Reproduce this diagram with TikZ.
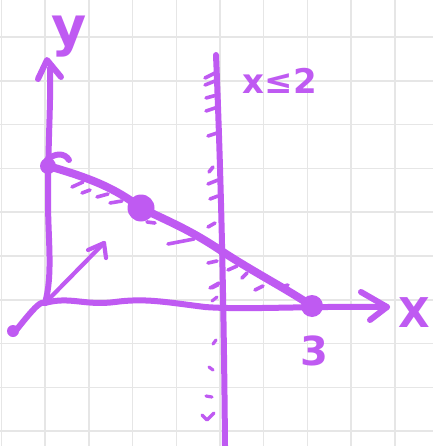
\documentclass[tikz,border=0pt]{standalone}
\usepackage{fontspec}
\setmainfont{DejaVu Sans}
\definecolor{pcol}{HTML}{BF5AF2}
\definecolor{gcol}{HTML}{E6E6E6}
\begin{document}
\begin{tikzpicture}[x=1pt,y=-1pt,
  gridline/.style={draw=gcol, line width=1.5pt},
  pen/.style={draw=pcol, line width=6pt, line cap=round, line join=round},
  thinpen/.style={pen, line width=4.2pt},
  hatchmark/.style={pen, line width=3.6pt},
  dot/.style={circle, fill=pcol, inner sep=0pt},
  lbl/.style={text=pcol, inner sep=0pt}]
\useasboundingbox (0,0) rectangle (433,446);
\fill[white] (0,0) rectangle (433,446);
% grid
\foreach \i in {0,...,9} \draw[gridline] ({1.5+43.7*\i},0) -- ({1.5+43.7*\i},446);
\foreach \j in {0,...,9} \draw[gridline] (0,{37+43.8*\j}) -- (433,{37+43.8*\j});
% key points
\coordinate (O) at (45,303);
\coordinate (Ytop) at (47,60);
\coordinate (Xtip) at (387,307);
\coordinate (Vtip) at (104,243);
\coordinate (Ltail) at (14,333);
\coordinate (Vtop) at (216,55);
\coordinate (Vbot) at (225,446);
\coordinate (A) at (48,166);
\coordinate (B) at (141,208);
\coordinate (C) at (312,306);
% y axis
\draw[pen] (O) .. controls (53,275) and (48,240) .. (48,200) .. controls (48,140) and (51,100) .. (50,68);
\draw[pen] (38,79) -- (Ytop) -- (61,77);
% x axis
\draw[pen] (O) .. controls (70,296) and (85,306) .. (115,302) .. controls (145,298) and (165,302) .. (205,307) .. controls (245,310) and (300,306) .. (Xtip);
\draw[pen] (361,292) -- (Xtip) -- (370,320);
% vector
\draw[thinpen] (O) -- (Vtip);
\draw[thinpen] (88,250) -- (Vtip) -- (106,258);
% tail
\draw[pen] (O) .. controls (41,301) and (36,305) .. (Ltail);
\fill[pcol] (13,331) circle (6);
% vertical line x<=2
\draw[pen] (Vtop) .. controls (222,200) and (224,330) .. (Vbot);
\foreach \a/\b/\c/\d in {205/78/215/73, 205/85/215/81, 206/98/217/95, 206/111/218/107, 208/136/220/132,
  209/172/213/167, 208/184/218/180, 210/199/218/196, 208/227/215/223, 208/263/217/261, 210/288/219/283}
  \draw[hatchmark] (\a,\b) -- (\c,\d);
\foreach \a/\b/\c/\d in {212/288/218/285, 212/301/217/297, 213/344/216/340, 209/367/213/370, 206/396/212/397}
  \draw[hatchmark, line width=3.2pt] (\a,\b) -- (\c,\d);
\draw[hatchmark, line width=3.2pt] (202,415) -- (207,420) -- (214,413);
% line through (0,y0) and (3,0)
\draw[pen, line width=8pt] (A) .. controls (90,178) and (115,188) .. (B) .. controls (170,222) and (190,230) .. (220,250) .. controls (250,270) and (285,288) .. (C);
\draw[pen] (46,161) .. controls (55,152) and (65,153) .. (69,160);
\foreach \a/\b/\c/\d in {72/187/83/182, 82/193/90/190, 97/197/108/194, 110/203/122/201, 147/222/155/223,
  168/244/194/239, 228/270/237/266, 242/278/247/273, 255/290/263/286, 281/287/288/285}
  \draw[hatchmark] (\a,\b) -- (\c,\d);
\node[dot, minimum size=16pt] (PA) at (A) {};
\node[dot, minimum size=27pt] (PB) at (B) {};
\node[dot, minimum size=22pt] (PC) at (C) {};
% labels
\node[lbl, font=\fontsize{54}{54}\selectfont\bfseries] (ly) at (69,37) {y};
\node[lbl, font=\fontsize{41}{41}\selectfont\bfseries] (lx) at (414,313) {X};
\node[lbl, font=\fontsize{34}{34}\selectfont\bfseries] (lc) at (280,81) {x≤2};
\node[lbl, font=\fontsize{40}{40}\selectfont\bfseries] (l3) at (314,351) {3};
\end{tikzpicture}
\end{document}
